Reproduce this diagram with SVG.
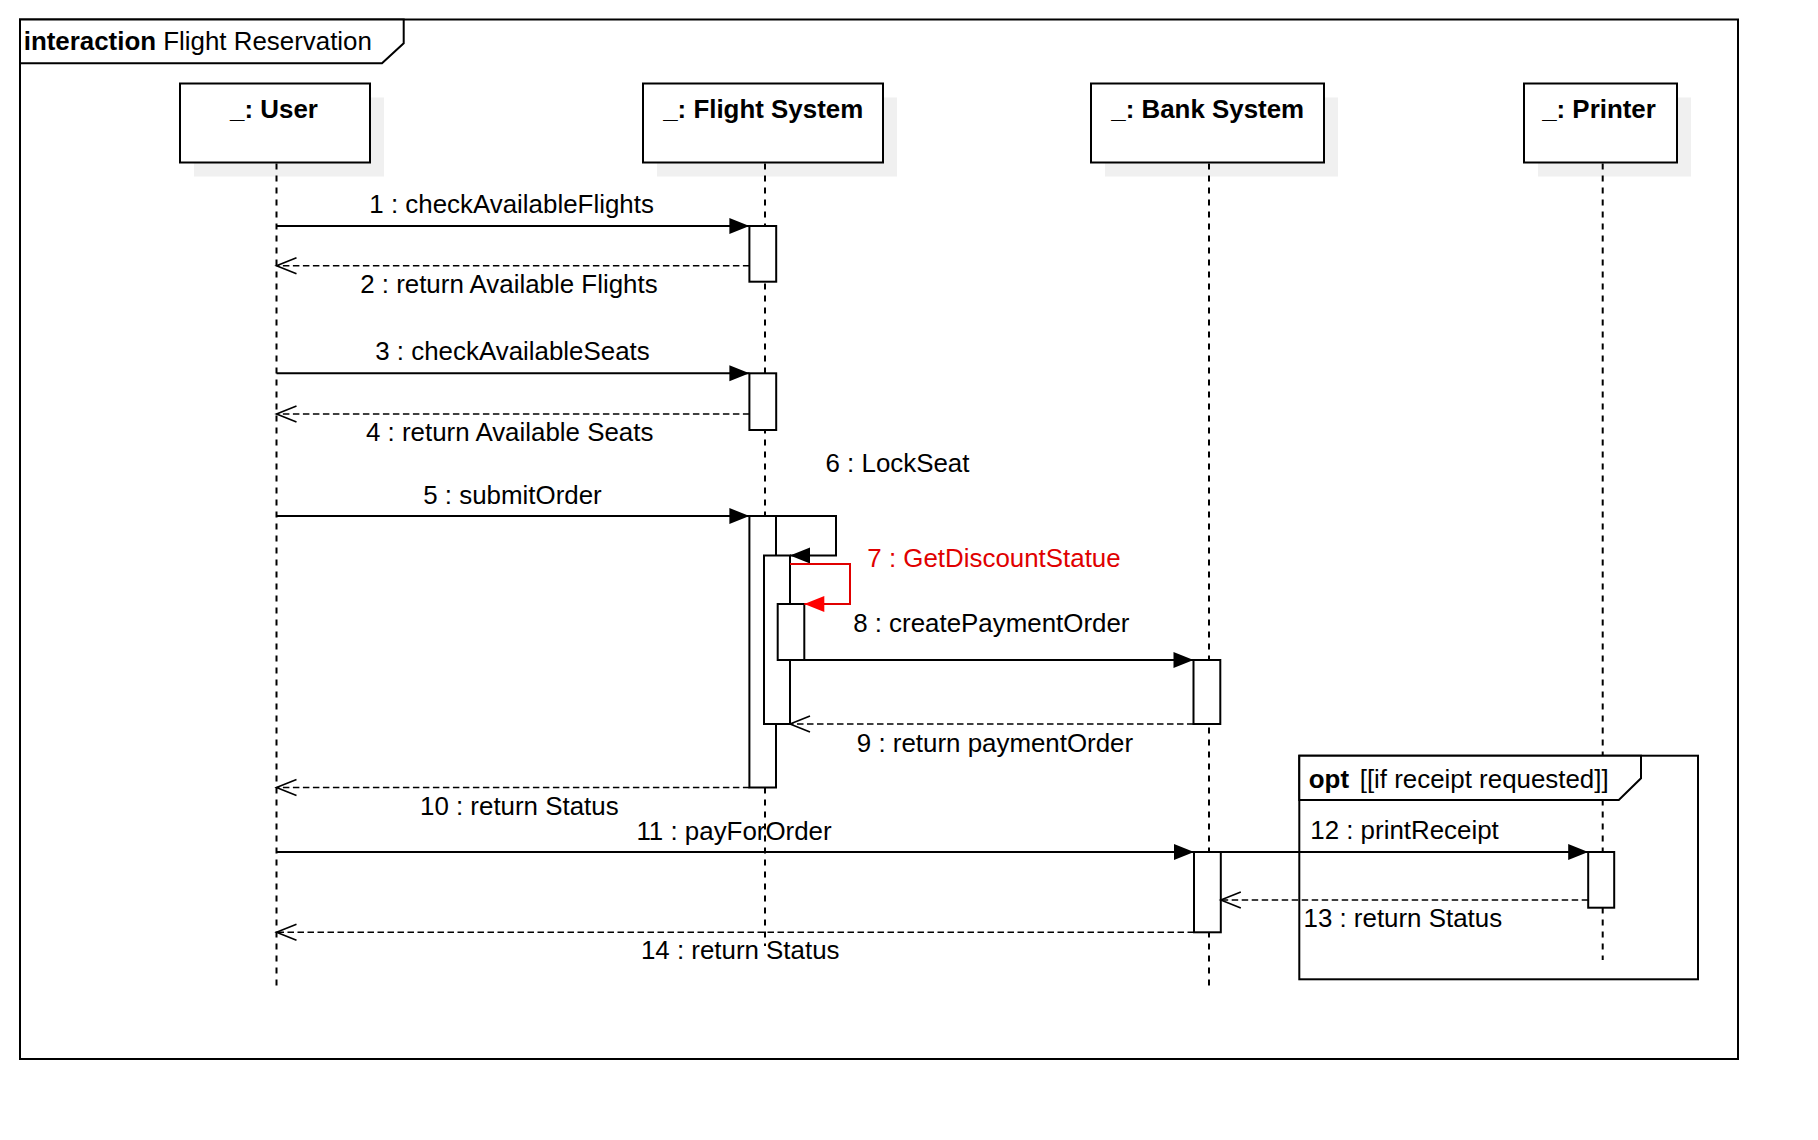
<svg xmlns="http://www.w3.org/2000/svg" width="1818" height="1140" viewBox="0 0 1818 1140">
<style>
text{font-family:"Liberation Sans",Arial,Helvetica,sans-serif;font-size:25.9px;fill:#000}
.b{font-weight:bold}
.lbl{text-anchor:middle}
.red{fill:#e00000}
.frame{fill:none;stroke:#000;stroke-width:2}
.hdr{fill:#fff;stroke:#000;stroke-width:2}
.box{fill:#fff;stroke:#000;stroke-width:2}
.shadow{fill:#f0f0f0;stroke:none}
.life{stroke:#000;stroke-width:2;stroke-dasharray:6 6;fill:none}
.act{fill:#fff;stroke:#000;stroke-width:2}
.call{stroke:#000;stroke-width:2;fill:none;marker-end:url(#filled)}
.ret{stroke:#000;stroke-width:1.6;fill:none;stroke-dasharray:6.5 3.5;marker-end:url(#open)}
.redcall{stroke:#e00000;stroke-width:2;fill:none;marker-end:url(#filledRed)}
</style>
<defs>
<marker id="filled" viewBox="0 0 20 16" refX="20" refY="8" markerWidth="20" markerHeight="16" markerUnits="userSpaceOnUse" orient="auto" overflow="visible"><path d="M0,0 L20,8 L0,16 Z" fill="#000"/></marker>
<marker id="filledRed" viewBox="0 0 20 16" refX="20" refY="8" markerWidth="20" markerHeight="16" markerUnits="userSpaceOnUse" orient="auto" overflow="visible"><path d="M0,0 L20,8 L0,16 Z" fill="#ff0000"/></marker>
<marker id="open" viewBox="0 0 20 16" refX="20" refY="8" markerWidth="20" markerHeight="16" markerUnits="userSpaceOnUse" orient="auto" overflow="visible"><path d="M0,0 L20,8 L0,16" fill="none" stroke="#000" stroke-width="1.6"/></marker>
</defs>
<rect width="1818" height="1140" fill="#fff"/>

<g id="frame">
<rect class="frame" x="20" y="19.5" width="1718" height="1039.5"/>
<path class="hdr" d="M20,19.5 H403.7 V43.3 L382,63.3 H20 Z"/>
<text x="23.7" y="50"><tspan class="b">interaction</tspan> Flight Reservation</text>
</g>

<g id="user">
<rect class="shadow" x="194" y="97.5" width="190" height="79"/>
<rect class="box" x="180" y="83.5" width="190" height="79"/>
<text class="b lbl" x="274" y="118.3">_: User</text>
</g>
<g id="flight">
<rect class="shadow" x="657" y="97.5" width="240" height="79"/>
<rect class="box" x="643" y="83.5" width="240" height="79"/>
<text class="b lbl" x="763.2" y="118.3">_: Flight System</text>
</g>
<g id="bank">
<rect class="shadow" x="1105" y="97.5" width="233" height="79"/>
<rect class="box" x="1091" y="83.5" width="233" height="79"/>
<text class="b lbl" x="1207.7" y="118.3">_: Bank System</text>
</g>
<g id="printer">
<rect class="shadow" x="1538" y="97.5" width="153" height="79"/>
<rect class="box" x="1524" y="83.5" width="153" height="79"/>
<text class="b lbl" x="1599" y="118.3">_: Printer</text>
</g>

<g id="lifelines">
<line class="life" x1="276.5" y1="163.5" x2="276.5" y2="986"/>
<line class="life" x1="765" y1="163.5" x2="765" y2="946"/>
<line class="life" x1="1209" y1="163.5" x2="1209" y2="986"/>
<line class="life" x1="1602.7" y1="163.5" x2="1602.7" y2="960"/>
</g>

<g id="opt">
<rect class="frame" x="1299.3" y="755.7" width="398.7" height="223.6"/>
<path class="hdr" d="M1299.3,755.7 H1641 V778.3 L1618.8,800 H1299.3 Z"/>
<text x="1308.8" y="787.7"><tspan class="b">opt</tspan></text>
<text x="1359.7" y="787.7">[[if receipt requested]]</text>
</g>

<g id="activations">
<rect class="act" x="749.4" y="226" width="26.8" height="55.7"/>
<rect class="act" x="749.4" y="373.3" width="26.8" height="56.7"/>
<rect class="act" x="749.4" y="516" width="26.6" height="271.5"/>
<rect class="act" x="764" y="555.5" width="26" height="168.5"/>
<rect class="act" x="777.7" y="604" width="26.6" height="56"/>
<rect class="act" x="1193.5" y="660" width="26.8" height="64"/>
<rect class="act" x="1194" y="852" width="26.8" height="80.3"/>
<rect class="act" x="1588.2" y="852" width="26" height="55.7"/>
</g>

<g id="connectors">
<path class="call" d="M276.5,226 H749.4"/>
<path class="ret" d="M749.4,265.7 H276.5"/>
<path class="call" d="M276.5,373.3 H749.4"/>
<path class="ret" d="M749.4,414 H276.5"/>
<path class="call" d="M276.5,516 H749.4"/>
<path class="call" d="M776,516 H836 V555.5 H790"/>
<path class="redcall" d="M790,564 H850 V604 H804.3"/>
<path class="call" d="M804.3,660 H1193.5"/>
<path class="ret" d="M1193.5,724 H790"/>
<path class="ret" d="M749.4,787.5 H276.5"/>
<path class="call" d="M276.5,852 H1194"/>
<path class="call" d="M1220.8,852 H1588.2"/>
<path class="ret" d="M1588.2,900 H1220.8"/>
<path class="ret" d="M1194,932.3 H276.5"/>
</g>

<g id="labels">
<text class="lbl" x="511.6" y="213.3">1 : checkAvailableFlights</text>
<text class="lbl" x="508.9" y="293.3">2 : return Available Flights</text>
<text class="lbl" x="512.5" y="360">3 : checkAvailableSeats</text>
<text class="lbl" x="509.7" y="441">4 : return Available Seats</text>
<text class="lbl" x="512.5" y="504">5 : submitOrder</text>
<text class="lbl" x="897.5" y="472.3">6 : LockSeat</text>
<text class="lbl red" x="994" y="566.7">7 : GetDiscountStatue</text>
<text class="lbl" x="991.3" y="631.7">8 : createPaymentOrder</text>
<text class="lbl" x="995" y="751.7">9 : return paymentOrder</text>
<text class="lbl" x="519.3" y="815">10 : return Status</text>
<text class="lbl" x="734" y="840">11 : payForOrder</text>
<text class="lbl" x="1404.5" y="839.3">12 : printReceipt</text>
<text class="lbl" x="1402.8" y="927.3">13 : return Status</text>
<text class="lbl" x="740.2" y="959">14 : return Status</text>
</g>
</svg>
